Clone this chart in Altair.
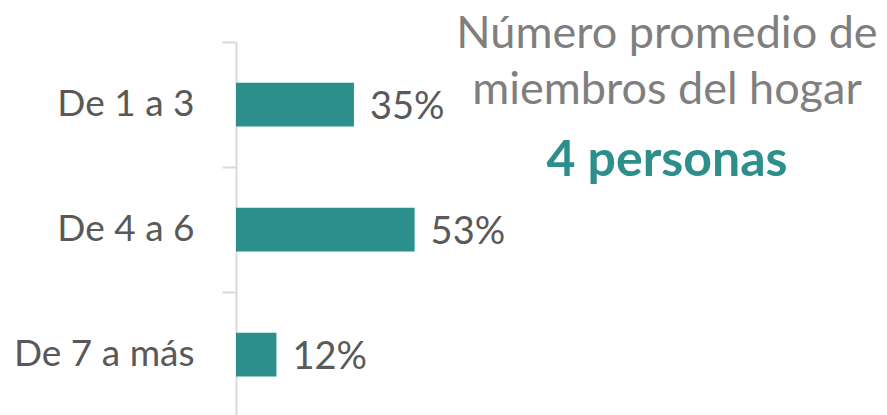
import altair as alt
import pandas as pd

categories = ["De 1 a 3", "De 4 a 6", "De 7 a más"]
values = [35, 53, 12]
labels = ["35%", "53%", "12%"]

title_lines = ["Número promedio de", "miembros del hogar"]
highlight = "4 personas"

TEAL = "#2D8F8C"
GRAY = "#595959"
LIGHT = "#7F7F7F"
FONT = "Lato"

df = pd.DataFrame({"cat": categories, "val": values, "label": labels})

y_enc = alt.Y("cat:N", sort=categories,
              scale=alt.Scale(paddingInner=0, paddingOuter=0, range=[0, 375]),
              axis=alt.Axis(title=None, tickBand="extent", tickSize=14,
                            tickColor="#D9D9D9", tickWidth=2,
                            domainColor="#D9D9D9", domainWidth=2,
                            labelFont=FONT, labelFontSize=37, labelColor=GRAY,
                            labelPadding=28, labelLimit=300))
x_enc = alt.X("val:Q", scale=alt.Scale(domain=[0, 100]), axis=None)

bars = alt.Chart(df).mark_bar(color=TEAL, height=alt.RelativeBandSize(band=0.35)).encode(y=y_enc, x=x_enc)
texts = alt.Chart(df).mark_text(align="left", dx=16, dy=3, font=FONT,
                                fontSize=38, color=GRAY).encode(
    y=alt.Y("cat:N", sort=categories), x="val:Q", text="label:N")

t1 = alt.Chart(pd.DataFrame({"t": [title_lines[0]]})).mark_text(
    font=FONT, fontSize=45, color=LIGHT, align="center", baseline="alphabetic").encode(
    x=alt.value(431), y=alt.value(6), text="t:N")
t2 = alt.Chart(pd.DataFrame({"t": [title_lines[1]]})).mark_text(
    font=FONT, fontSize=45, color=LIGHT, align="center", baseline="alphabetic").encode(
    x=alt.value(431), y=alt.value(62), text="t:N")
t3 = alt.Chart(pd.DataFrame({"t": [highlight]})).mark_text(
    font=FONT, fontSize=50, fontWeight="bold", color=TEAL, align="center",
    baseline="alphabetic").encode(
    x=alt.value(431), y=alt.value(134), text="t:N")

chart = alt.layer(bars, texts, t1, t2, t3).properties(
    width=337, height=365,
    background="white",
    autosize=alt.AutoSizeParams(type="none"),
    padding={"left": 228, "top": 34, "right": 306, "bottom": 8},
).configure_view(stroke=None)

chart.save("out.html", embed_options={"renderer": "svg", "actions": False})
